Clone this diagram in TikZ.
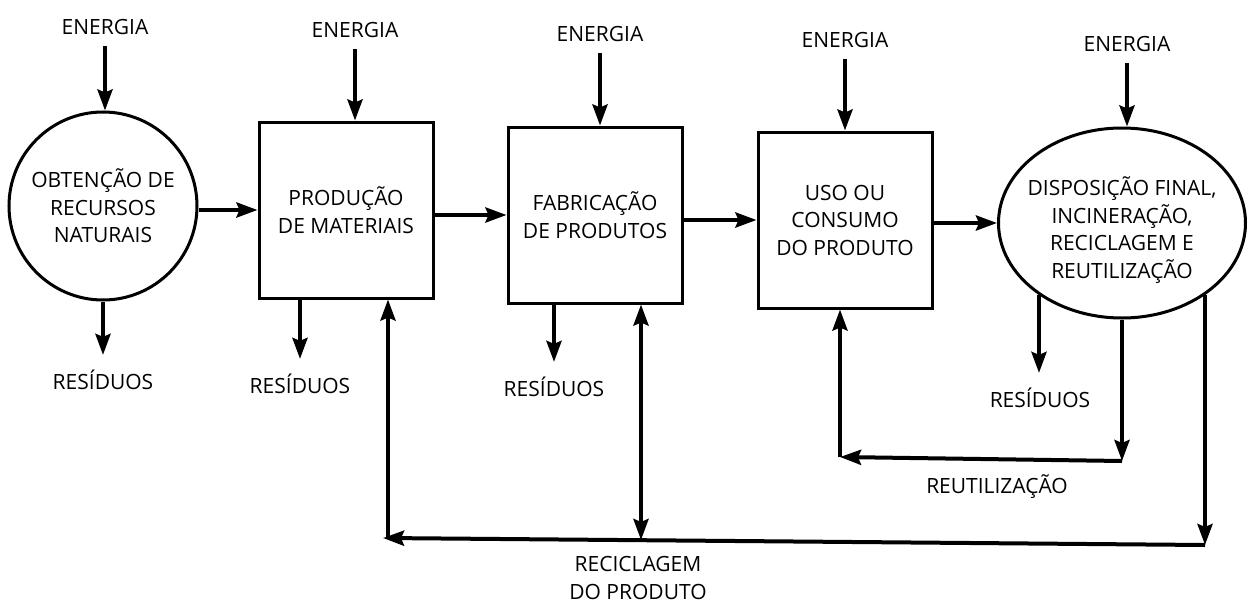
\documentclass[tikz,border=0pt]{standalone}
\usepackage{fontspec}
\setmainfont{Open Sans}
\usetikzlibrary{arrows.meta,shapes.geometric}
\begin{document}
\begin{tikzpicture}[x=1pt,y=-1pt,
  every node/.style={font=\fontsize{21}{27.5}\selectfont, align=center, inner sep=0pt},
  tip/.tip={Stealth[length=21pt,width=15pt,inset=3pt]},
  arr/.style={line width=4pt, -tip},
  dblarr/.style={line width=4pt, tip-tip},
  shp/.style={draw, line width=3pt},
  boxst/.style={shp, rectangle, minimum width=174pt, minimum height=176pt},
]
\useasboundingbox (0,0) rectangle (1248,602);

% main shapes
\node[shp, circle, minimum size=188pt] (circ) at (103,206) {OBTENÇÃO DE\\RECURSOS\\NATURAIS};
\node[boxst] (b1) at (346,210) {PRODUÇÃO\\DE MATERIAIS};
\node[boxst] (b2) at (595,215) {FABRICAÇÃO\\DE PRODUTOS};
\node[boxst] (b3) at (845,220) {USO OU\\CONSUMO\\DO PRODUTO};
\node[shp, ellipse, minimum width=247pt, minimum height=190pt] (ell) at (1122,223) {};
\node (ellt) at (1122,230) {DISPOSIÇÃO FINAL,\\INCINERAÇÃO,\\RECICLAGEM E\\REUTILIZAÇÃO};

% energy labels
\node (e1) at (105,27) {ENERGIA};
\node (e2) at (355,30) {ENERGIA};
\node (e3) at (600,34) {ENERGIA};
\node (e4) at (845,40) {ENERGIA};
\node (e5) at (1127,44) {ENERGIA};

\draw[arr, shorten <=11pt] (e1.south) -- (e1.south |- circ.north);
\draw[arr, shorten <=11pt] (e2.south) -- (e2.south |- b1.north);
\draw[arr, shorten <=11pt] (e3.south) -- (e3.south |- b2.north);
\draw[arr, shorten <=11pt] (e4.south) -- (e4.south |- b3.north);
\draw[arr, shorten <=11pt] (e5.south) -- (e5.south |- ell.north);

% waste labels
\node (r1) at (103,380) {RESÍDUOS};
\node (r2) at (300,384) {RESÍDUOS};
\node (r3) at (554,387) {RESÍDUOS};
\node (r4) at (1040,398) {RESÍDUOS};

\draw[arr, shorten >=15pt] (circ.south) -- (circ.south |- r1.north);
\draw[arr, shorten >=15pt] (r2.north |- b1.south) -- (r2.north);
\draw[arr, shorten >=15pt] (r3.north |- b2.south) -- (r3.north);
\draw[arr, shorten >=15pt] (ell.221) -- (ell.221 |- r4.north);

% main flow
\draw[arr] (b1.west -| circ.east) -- (b1.west);
\draw[arr] (b1.east |- b2.west) -- (b2.west);
\draw[arr] (b2.east |- b3.west) -- (b3.west);
\draw[arr] (b3.east |- ell.west) -- (ell.west);

% reuse loop
\coordinate (c1) at (ell.south |- 0,461);
\coordinate (c2) at (840,457);
\draw[arr] (ell.south) -- (c1);
\draw[arr] (c1) -- (c2);
\draw[arr] (c2) -- (c2 |- b3.south);
\node (reut) at (997,487) {REUTILIZAÇÃO};

% recycling loop
\coordinate (d1) at (ell.319 |- 0,545);
\coordinate (d2) at (383,538);
\coordinate (d3) at (388,538);
\coordinate (d4) at (641,540);
\draw[arr] (ell.319) -- (d1);
\draw[arr] (d1) -- (d2);
\draw[arr] (d3) -- (d3 |- b1.south);
\draw[dblarr] (d4) -- (d4 |- b2.south);
\node (recic) at (638,578) {RECICLAGEM\\DO PRODUTO};
\end{tikzpicture}
\end{document}
